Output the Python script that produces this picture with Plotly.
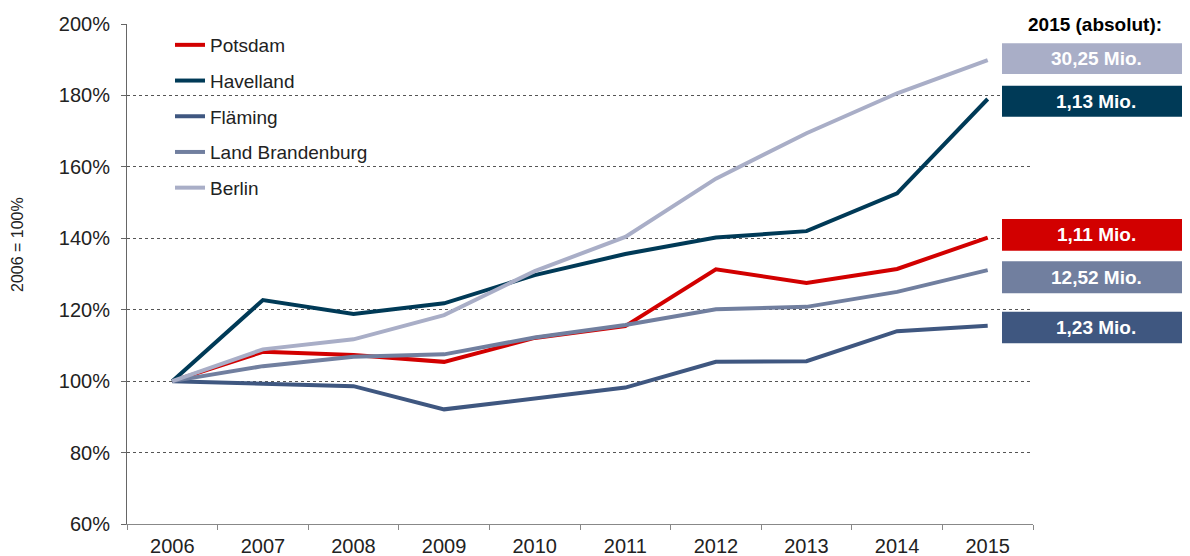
import plotly.graph_objects as go

years = ["2006", "2007", "2008", "2009", "2010", "2011", "2012", "2013", "2014", "2015"]
potsdam = [100, 108.2, 107.3, 105.4, 112.1, 115.4, 131.3, 127.5, 131.4, 140.2]
havelland = [100, 122.7, 118.8, 121.8, 129.7, 135.6, 140.2, 142.0, 152.6, 179.0]
flaeming = [100, 99.2, 98.6, 92.1, 95.2, 98.2, 105.4, 105.6, 114.0, 115.5]
brandenburg = [100, 104.2, 106.8, 107.5, 112.2, 115.7, 120.1, 120.8, 125.0, 131.1]
berlin = [100, 108.9, 111.7, 118.5, 130.8, 140.4, 156.7, 169.4, 180.6, 189.9]

names = ["Potsdam", "Havelland", "Fläming", "Land Brandenburg", "Berlin"]
colors = ["#D20000", "#003A57", "#3F5780", "#717F9F", "#A9AEC7"]
series = [potsdam, havelland, flaeming, brandenburg, berlin]

abs_labels = ["30,25 Mio.", "1,13 Mio.", "1,11 Mio.", "12,52 Mio.", "1,23 Mio."]
abs_colors = ["#A9AEC7", "#003A57", "#D20000", "#717F9F", "#3F5780"]
abs_ranges = [(186.0, 194.6), (174.0, 182.7), (136.5, 145.4), (124.6, 133.6), (110.6, 119.4)]

FONT = "Arial, Liberation Sans, sans-serif"

# page body has an 8px margin; compensate so the plot lands at the target screen spot
OFF = 8
SL, SR, ST, SB = 127, 1033, 24, 524  # plot area in screen px
W, H = 1182, 548
L, R, T, B = SL - OFF, SR - OFF, ST - OFF, SB - OFF
PW, PH = R - L, B - T


def px(xs):
    return (xs - SL) / PW


def py(ys):
    return (SB - ys) / PH


fig = go.Figure()
for i, (n, c, s) in enumerate(zip(names, colors, series)):
    fig.add_trace(go.Scatter(x=years, y=s, name=n, mode="lines",
                             line=dict(color=c, width=4), legendgroup=f"g{i}"))

x0p, x1p = px(1002), px(1190)
for lab, col, (y0, y1) in zip(abs_labels, abs_colors, abs_ranges):
    fig.add_shape(type="rect", xref="paper", yref="y", x0=x0p, x1=x1p, y0=y0, y1=y1,
                  fillcolor=col, line=dict(width=0), layer="above")
    fig.add_annotation(xref="paper", yref="y", x=(x0p + x1p) / 2, y=(y0 + y1) / 2,
                       xanchor="center", yanchor="middle",
                       text=f"<b>{lab}</b>", showarrow=False,
                       font=dict(family=FONT, size=19, color="white"))

fig.add_annotation(xref="paper", yref="y", x=px(1095), y=200, xanchor="center",
                   yanchor="middle",
                   text="<b>2015 (absolut):</b>", showarrow=False, bgcolor="white",
                   font=dict(family=FONT, size=19, color="black"))

fig.add_annotation(xref="paper", yref="paper", x=px(18), y=py(245), xanchor="center",
                   text="2006 = 100%", textangle=-90, showarrow=False,
                   font=dict(family=FONT, size=16, color="#222"))

fig.update_layout(
    width=W, height=H,
    margin=dict(l=L, r=W - R, t=T, b=H - B, autoexpand=False),
    plot_bgcolor="white", paper_bgcolor="white",
    font=dict(family=FONT, size=19, color="#222"),
    showlegend=True,
    legend=dict(x=px(170), y=py(26), xanchor="left", yanchor="top",
                font=dict(family=FONT, size=19, color="#222"), tracegroupgap=8,
                bgcolor="rgba(0,0,0,0)"),
    xaxis=dict(type="category", range=[-0.5, 9.5], showgrid=False,
               showline=True, linecolor="#888", linewidth=1,
               ticks="outside", tickson="boundaries", ticklen=5, tickcolor="#888",
               ticklabelstandoff=4,
               tickfont=dict(family=FONT, size=20, color="#222")),
    yaxis=dict(range=[60, 200], dtick=20, ticksuffix="%",
               showgrid=True, gridcolor="#555", griddash="dot", gridwidth=1,
               showline=True, linecolor="#666", linewidth=1,
               ticks="outside", ticklen=5, tickcolor="#666", zeroline=False,
               ticklabelstandoff=7,
               tickfont=dict(family=FONT, size=20, color="#222")),
)

fig.write_html("out.html")
